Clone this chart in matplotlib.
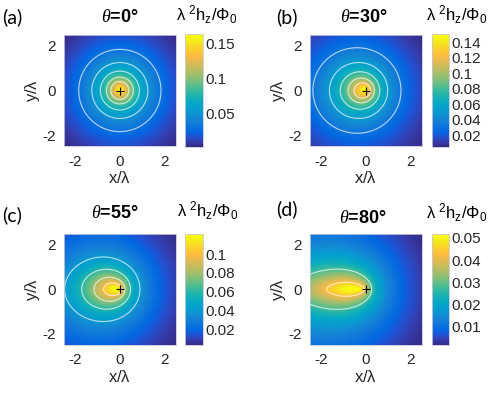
import numpy as np
import matplotlib
matplotlib.use('Agg')
import matplotlib.pyplot as plt
from matplotlib.colors import LinearSegmentedColormap
from matplotlib.ticker import FuncFormatter

plt.rcParams['font.family'] = ['Liberation Sans', 'DejaVu Sans']
plt.rcParams['mathtext.fontset'] = 'custom'
plt.rcParams['mathtext.rm'] = 'Liberation Sans'
plt.rcParams['mathtext.it'] = 'Liberation Serif:italic'
plt.rcParams['mathtext.default'] = 'rm'

# panel data
panel_tags = ['(a)', '(b)', '(c)', '(d)']
theta_deg = [0, 30, 55, 80]
h_max = [0.163, 0.150, 0.122, 0.052]     # top of each colour bar
h_min = [0.002, 0.005, 0.003, 0.0017]    # bottom of each colour bar
cb_ticks = [[0.05, 0.1, 0.15],
            [0.02, 0.04, 0.06, 0.08, 0.1, 0.12, 0.14],
            [0.02, 0.04, 0.06, 0.08, 0.1],
            [0.01, 0.02, 0.03, 0.04, 0.05]]
contour_levels = [[0.03, 0.05, 0.07, 0.09, 0.11],
                  [0.032, 0.052, 0.072, 0.092, 0.112],
                  [0.04, 0.06, 0.08, 0.1],
                  [0.028, 0.043]]
xy_ticks = [-2, 0, 2]

# vortex line model (lengths in units of lambda)
line_len = 5.0
depth_len = 1.58
core = 0.3

# parula colour map anchors
parula = [(0.2081, 0.1663, 0.5292), (0.2081, 0.2386, 0.6771), (0.1253, 0.3242, 0.8303),
          (0.0060, 0.4086, 0.8828), (0.0498, 0.4586, 0.8641), (0.0779, 0.5040, 0.8384),
          (0.0641, 0.5570, 0.8240), (0.0265, 0.6137, 0.8135), (0.0231, 0.6418, 0.7913),
          (0.0384, 0.6743, 0.7436), (0.1133, 0.7015, 0.6859), (0.2178, 0.7250, 0.6193),
          (0.3482, 0.7424, 0.5473), (0.4871, 0.7491, 0.4840), (0.6099, 0.7473, 0.4337),
          (0.7184, 0.7411, 0.3905), (0.8185, 0.7327, 0.3498), (0.9139, 0.7258, 0.3063),
          (0.9938, 0.7455, 0.2403), (0.9880, 0.8066, 0.1794), (0.9626, 0.8705, 0.1309),
          (0.9661, 0.9514, 0.0755), (0.9763, 0.9831, 0.0538)]
cmap = LinearSegmentedColormap.from_list('parula', parula)

x = np.linspace(-2.5, 2.5, 201)
X, Y = np.meshgrid(x, x)
t = np.linspace(0, 25, 1000)
dt = t[1] - t[0]


def field(theta):
    th = np.radians(theta)
    H = np.zeros_like(X)
    for ti in t:
        sx = -ti * np.sin(th)
        sz = ti * np.cos(th)
        R = np.sqrt((X - sx) ** 2 + Y ** 2 + sz ** 2)
        H += np.exp(-ti / line_len - sz / depth_len) / (R + core) * dt
    return H


fig = plt.figure(figsize=(4.92, 3.94), dpi=100)
W, Hf = 492.0, 394.0


def box(x0, y0, x1, y1):
    return [x0 / W, 1 - y1 / Hf, (x1 - x0) / W, (y1 - y0) / Hf]


ax_px = [(64, 34.3, 175.7, 146.7), (310, 34.3, 421.7, 146.7),
         (64, 233.5, 175.7, 345), (310, 233.5, 421.7, 345)]
cb_px = [(185, 34.3, 202.7, 146.7), (431.7, 34.3, 448.7, 146.7),
         (185, 233.5, 202.7, 345), (431.7, 233.5, 448.7, 345)]
tag_xy = [(2, 17), (276, 17), (2, 215), (276, 209)]
title_xy = [(120, 18), (364, 18), (115, 214), (363, 219)]
cblab_xy = [(176, 15), (426, 15), (177, 211), (426, 213)]

fmt = FuncFormatter(lambda v, p: '%g' % v)
edge = '#c8c8d8'

for i in range(4):
    H = field(theta_deg[i])
    h = h_min[i] + (h_max[i] - h_min[i]) * (H - H.min()) / (H.max() - H.min())

    ax = fig.add_axes(box(*ax_px[i]))
    im = ax.imshow(h, extent=[-2.5, 2.5, -2.5, 2.5], origin='lower', cmap=cmap,
                   vmin=h_min[i], vmax=h_max[i], interpolation='bilinear')
    ax.contour(X, Y, h, levels=contour_levels[i], colors='white', linewidths=0.8, alpha=0.7)
    ax.plot(0, 0, '+', color='black', ms=6, mew=0.8)
    ax.set_xlim(-2.5, 2.5)
    ax.set_ylim(-2.5, 2.5)
    ax.set_xticks(xy_ticks)
    ax.set_yticks(xy_ticks)
    ax.xaxis.set_major_formatter(fmt)
    ax.yaxis.set_major_formatter(fmt)
    ax.tick_params(direction='in', length=0, labelsize=11, colors='#262626', pad=6)
    for s in ax.spines.values():
        s.set_color(edge)
        s.set_linewidth(0.6)
    ax.set_xlabel(r'x/$\lambda$', fontsize=12, color='#262626', labelpad=1)
    ax.set_ylabel(r'y/$\lambda$', fontsize=12, color='#262626', labelpad=0)

    cax = fig.add_axes(box(*cb_px[i]))
    cb = fig.colorbar(im, cax=cax)
    cb.set_ticks(cb_ticks[i])
    cb.ax.yaxis.set_major_formatter(fmt)
    cb.ax.tick_params(direction='in', length=0, labelsize=11, colors='#262626', pad=2)
    cb.outline.set_edgecolor(edge)
    cb.outline.set_linewidth(0.6)

    fig.text(tag_xy[i][0] / W, 1 - tag_xy[i][1] / Hf, panel_tags[i], fontsize=14,
             family=['Lato', 'DejaVu Sans'], ha='left', va='center')
    fig.text(title_xy[i][0] / W, 1 - title_xy[i][1] / Hf,
             r'$\mathit{\theta}$=%d°' % theta_deg[i], fontsize=13, fontweight='bold',
             ha='center', va='center')
    fig.text(cblab_xy[i][0] / W, 1 - cblab_xy[i][1] / Hf,
             r'$\lambda\ {}^{2}h_{z}/\Phi_{0}$', fontsize=12, ha='left', va='center')

fig.savefig('out.png', dpi=100)
